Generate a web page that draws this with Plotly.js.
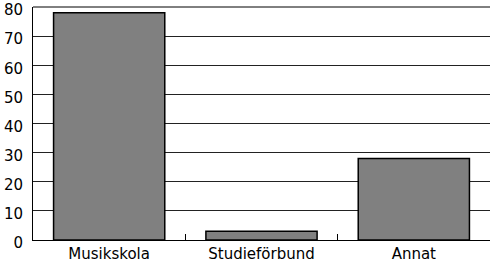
<!DOCTYPE html>
<html><head><meta charset="utf-8">
<script src="https://cdn.plot.ly/plotly-3.0.1.min.js"></script>
<style>html,body{margin:0;padding:0;background:#fff;}#c{width:490px;height:264px;}</style>
</head><body><div id="c"></div>
<script>
const categories = ["Musikskola", "Studieförbund", "Annat"];
const values = [78, 3, 28];
const yTicks = [0, 10, 20, 30, 40, 50, 60, 70, 80];

Plotly.newPlot('c', [{
  type: 'bar', x: categories, y: values,
  marker: {color: '#808080', line: {color: '#000', width: 1.5}},
  width: 0.73, hoverinfo: 'none'
}], {
  width: 490, height: 264,
  margin: {l: 33, r: 0, t: 7, b: 24, pad: 0},
  paper_bgcolor: '#fff', plot_bgcolor: '#fff',
  font: {family: 'DejaVu Sans, sans-serif', size: 14, color: '#000'},
  showlegend: false,
  xaxis: {type: 'category', showline: true, linecolor: '#000', linewidth: 1,
    ticks: 'inside', tickson: 'boundaries', ticklen: 6, tickcolor: '#000',
    showgrid: false, tickfont: {size: 15}},
  yaxis: {range: [0, 80], tickvals: yTicks, showline: true, linecolor: '#000', linewidth: 1,
    showgrid: true, gridcolor: '#222', gridwidth: 1, ticks: '', ticklabelstandoff: 6,
    ticklabelshift: 3, ticklabeloverflow: 'allow',
    zeroline: false, tickfont: {size: 15}, mirror: false},
  shapes: [{type: 'line', xref: 'paper', yref: 'paper', x0: 0, x1: 1, y0: 1, y1: 1,
    line: {color: '#000', width: 1}}]
}, {staticPlot: true});
</script></body></html>
